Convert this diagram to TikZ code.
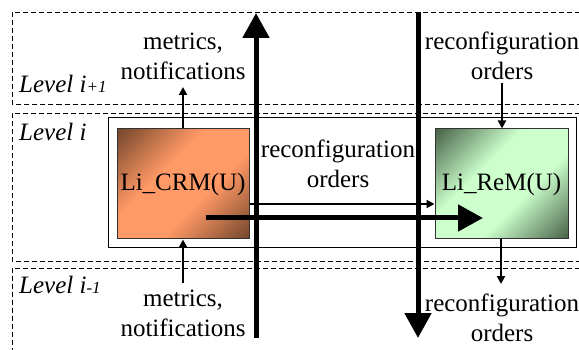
\documentclass[tikz,border=0pt]{standalone}
\usepackage{fontspec}
\setmainfont{Liberation Serif}
\usetikzlibrary{arrows.meta}
\definecolor{orlight}{HTML}{FF9966}
\definecolor{ordark}{HTML}{7A4A2E}
\definecolor{grlight}{HTML}{CCFFCC}
\definecolor{grdark}{HTML}{4E6A4E}
\pgfdeclareverticalshading{orshade}{100bp}{color(0bp)=(ordark); color(16bp)=(ordark); color(40bp)=(orlight); color(60bp)=(orlight); color(84bp)=(ordark); color(100bp)=(ordark)}
\pgfdeclareverticalshading{grshade}{100bp}{color(0bp)=(grdark); color(16bp)=(grdark); color(40bp)=(grlight); color(60bp)=(grlight); color(84bp)=(grdark); color(100bp)=(grdark)}
\tikzset{
  lvl/.style={draw=black, line width=0.9pt, dash pattern=on 5pt off 3pt},
  txt/.style={font=\fontsize{25}{30}\selectfont, align=center, inner sep=0pt},
  lvltxt/.style={font=\fontsize{25}{30}\selectfont\itshape, inner sep=0pt, anchor=base west},
  unitbox/.style={draw=black!80, line width=1pt, minimum width=132pt, minimum height=110pt,
     inner sep=0pt, font=\fontsize{25}{30}\selectfont, shade},
  bigarrow/.style={line width=5pt, -{Triangle[length=25pt,width=26pt]}},
  thinarrow/.style={line width=2pt, -{Triangle[length=8pt,width=8pt]}},
}
\newcommand{\smallsup}[1]{{\fontsize{17}{17}\selectfont #1}}
\begin{document}
\begin{tikzpicture}[x=1pt,y=-1pt]
\useasboundingbox (0,0) rectangle (579,350);
% level boxes
\draw[lvl] (580,12.5) -- (12,12.5) -- (12,104) -- (580,104);
\draw[lvl] (580,113) -- (12,113) -- (12,261) -- (580,261);
\draw[lvl] (580,268) -- (12,268) -- (12,352);
\node[lvltxt] (l1) at (19,93) {Level i\smallsup{+1}};
\node[lvltxt] (l2) at (19,141) {Level i};
\node[lvltxt] (l3) at (19,293) {Level i\smallsup{-1}};
% outer box
\node[draw=black, line width=1pt, minimum width=468pt, minimum height=130pt, inner sep=0pt] (outer) at (342,183) {};
% units
\node[unitbox, shading=orshade, shading angle=45] (crm) at (183,184) {Li\_CRM(U)};
\node[unitbox, minimum width=133pt, shading=grshade, shading angle=45] (rem) at (501.5,184) {Li\_ReM(U)};
% texts
\node[txt] (mt) at (183,56) {metrics,\\notifications};
\node[txt] (rt) at (502,56) {reconfiguration\\orders};
\node[txt] (mid) at (338,164) {reconfiguration\\orders};
\node[txt] (mb) at (183,313) {metrics,\\notifications};
\node[txt] (rb) at (502,318) {reconfiguration\\orders};
% free ends of thin arrows
\coordinate (mtE) at (183,87);
\coordinate (mbS) at (183,283);
\coordinate (rtS) at (502,83);
\coordinate (rbE) at (501,284);
% thin arrows
\draw[thinarrow] (crm.north) -- (mtE);
\draw[thinarrow] (mbS) -- (crm.south);
\draw[thinarrow] (rtS) -- (rtS |- rem.north);
\draw[thinarrow] (rbE |- rem.south) -- (rbE);
\draw[thinarrow] ([yshift=-20pt]crm.east) -- ([yshift=-20pt]rem.west);
% big arrows
\coordinate (upS) at (256,338);
\coordinate (upE) at (256,13);
\coordinate (dnS) at (418,12);
\coordinate (dnE) at (418,338);
\coordinate (hzS) at (206,218);
\coordinate (hzE) at (483,218);
\draw[bigarrow] (upS) -- (upE);
\draw[bigarrow] (dnS) -- (dnE);
\draw[bigarrow] (hzS) -- (hzE);
\end{tikzpicture}
\end{document}
